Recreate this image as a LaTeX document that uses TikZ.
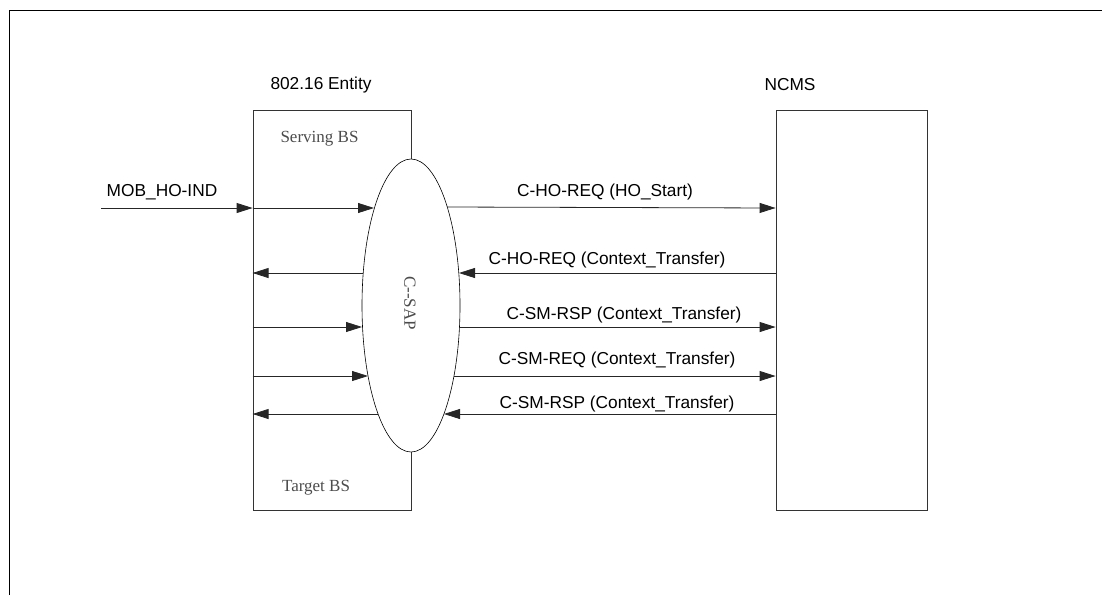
\documentclass[tikz,border=0pt]{standalone}
\usepackage{fontspec}
\setmainfont{Liberation Sans}
\newfontfamily\bsfont{Liberation Serif}
\usepackage{tikz}
\usetikzlibrary{shapes.geometric, arrows.meta}

\begin{document}
\begin{tikzpicture}[x=1pt, y=-1pt,
  box/.style={draw=black!80, line width=0.8pt, inner sep=0pt},
  msg/.style={draw=black!85, line width=0.8pt, -{Triangle[length=16pt, width=10pt]}},
  lbl/.style={font=\fontsize{17.3}{20}\selectfont, inner sep=0pt},
  bs/.style={font=\bsfont\fontsize{17}{19}\selectfont, text=black!70, inner sep=0pt}]
\useasboundingbox (0,0) rectangle (1102,595);
\draw[line width=1pt] (9,595) -- (9,10.5) -- (1102,10.5);

% boxes
\node[box, minimum width=158pt, minimum height=400pt] (entity) at (332,310) {};
\node[box, minimum width=151pt, minimum height=400pt] (ncms) at (851.5,310) {};
\node[draw, line width=0.6pt, fill=white, ellipse, inner sep=0pt,
  minimum width=98pt, minimum height=293pt] (csap) at (411,305.5) {};
\node[bs, rotate=-90] (csaplbl) at (410,303) {C--SAP};

\node[lbl] (entitylbl) at (321,85) {802.16 Entity};
\node[lbl] (ncmslbl) at (790,85) {NCMS};
\node[bs] (serving) at (319.5,139) {Serving BS};
\node[bs] (target) at (316,488) {Target BS};

% points where the arrows meet the C-SAP
\coordinate (e1l) at (374,208);
\coordinate (e1r) at (447,207);
\coordinate (e2l) at (363,273);
\coordinate (e2r) at (459,273);
\coordinate (e3l) at (362,327);
\coordinate (e3r) at (459,327);
\coordinate (e4l) at (368,376);
\coordinate (e4r) at (454,376);
\coordinate (e5l) at (378,414);
\coordinate (e5r) at (444,414);
\coordinate (mob) at (101,208);

% primitives
\draw[msg] (mob) -- (mob -| entity.west);
\node[lbl] (moblbl) at (162,192) {MOB\_HO-IND};
\draw[msg] (entity.west |- e1l) -- (e1l);
\draw[msg] (e2l) -- (entity.west |- e2l);
\draw[msg] (entity.west |- e3l) -- (e3l);
\draw[msg] (entity.west |- e4l) -- (e4l);
\draw[msg] (e5l) -- (entity.west |- e5l);

\draw[msg] (e1r) -- (ncms.west |- e1l);
\draw[msg] (ncms.west |- e2r) -- (e2r);
\draw[msg] (e3r) -- (ncms.west |- e3r);
\draw[msg] (e4r) -- (ncms.west |- e4r);
\draw[msg] (ncms.west |- e5r) -- (e5r);

\node[lbl] (m1) at (605,192) {C-HO-REQ (HO\_Start)};
\node[lbl] (m2) at (607,260) {C-HO-REQ (Context\_Transfer)};
\node[lbl] (m3) at (624,315) {C-SM-RSP (Context\_Transfer)};
\node[lbl] (m4) at (617,360) {C-SM-REQ (Context\_Transfer)};
\node[lbl] (m5) at (617,404) {C-SM-RSP (Context\_Transfer)};
\end{tikzpicture}
\end{document}
